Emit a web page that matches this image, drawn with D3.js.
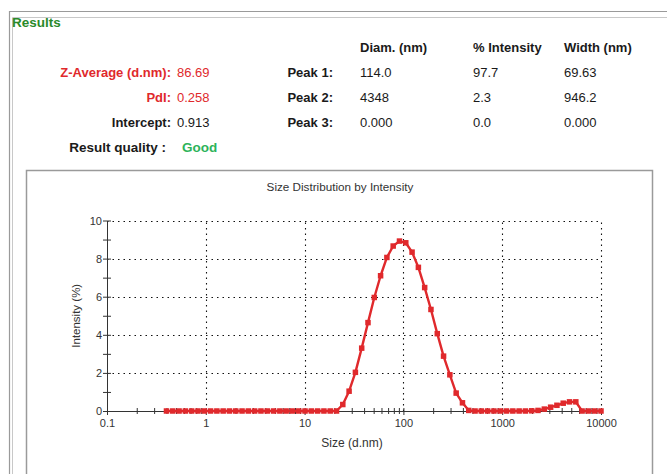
<!DOCTYPE html>
<html>
<head>
<meta charset="utf-8">
<script src="https://cdn.jsdelivr.net/npm/d3@7/dist/d3.min.js"></script>
<style>
  html, body { margin: 0; padding: 0; background: #fff; }
  svg { display: block; font-family: "Liberation Sans", Arial, sans-serif; }
</style>
</head>
<body>
<svg id="chart" width="667" height="474"></svg>
<script>
// ---- Data ----
const sizes = [0.4, 0.4632, 0.5365, 0.6213, 0.7195, 0.8332, 0.9649, 1.117, 1.294, 1.499,
  1.736, 2.01, 2.328, 2.696, 3.122, 3.615, 4.187, 4.849, 5.615, 6.503,
  7.531, 8.721, 10.1, 11.7, 13.54, 15.69, 18.17, 21.04, 24.36, 28.21,
  32.67, 37.84, 43.82, 50.75, 58.77, 68.06, 78.82, 91.28, 105.7, 122.4,
  141.8, 164.2, 190.1, 220.2, 255.0, 295.3, 342.0, 396.1, 458.7, 531.2,
  615.1, 712.4, 825.0, 955.4, 1106, 1281, 1484, 1718, 1990, 2305,
  2669, 3091, 3580, 4145, 4801, 5560, 6439, 7456, 8635, 10000];
const intensity = [0, 0, 0, 0, 0, 0, 0, 0, 0, 0,
  0, 0, 0, 0, 0, 0, 0, 0, 0, 0,
  0, 0, 0, 0, 0, 0, 0, 0, 0.34, 1.04,
  2.03, 3.3, 4.64, 5.96, 7.1, 8.06, 8.66, 8.92, 8.83, 8.34,
  7.54, 6.48, 5.33, 4.06, 2.88, 1.9, 0.94, 0.43, 0.03, 0,
  0, 0, 0, 0, 0, 0, 0, 0, 0.01, 0.03,
  0.1, 0.2, 0.3, 0.41, 0.48, 0.48, 0, 0, 0, 0];
const xTicks = [0.1, 1, 10, 100, 1000, 10000];
const xTickLabels = ["0.1", "1", "10", "100", "1000", "10000"];
const yTicks = [0, 2, 4, 6, 8, 10];
const yMinorTicks = [1, 3, 5, 7, 9];

const summaryLabels = ["Z-Average (d.nm):", "PdI:", "Intercept:"];
const summaryValues = ["86.69", "0.258", "0.913"];
const peakLabels = ["Peak 1:", "Peak 2:", "Peak 3:"];
const peakHeaders = ["Diam. (nm)", "% Intensity", "Width (nm)"];
const peakDiam = ["114.0", "4348", "0.000"];
const peakPct = ["97.7", "2.3", "0.0"];
const peakWidth = ["69.63", "946.2", "0.000"];

// ---- Drawing ----
const svg = d3.select("#chart");
const RED = "#e0292c", GREEN_T = "#2a8a2a", GREEN_G = "#2db35a", TXT = "#1a1a1a";
const FS = 13;

// frames
svg.append("path").attr("d", "M9.5,474V11.5H667").attr("fill", "none").attr("stroke", "#9a9a9a").attr("stroke-width", 1.2);
svg.append("path").attr("d", "M12.5,474V17.5H667").attr("fill", "none").attr("stroke", "#c8c8c8").attr("stroke-width", 1);
svg.append("path").attr("d", "M26.5,474V170.5H652.5V474").attr("fill", "none").attr("stroke", "#9a9a9a").attr("stroke-width", 1.5);

svg.append("text").attr("x", 12).attr("y", 27).attr("fill", GREEN_T)
  .attr("font-size", 13.5).attr("font-weight", "bold").text("Results");

// headers
const colX = [360, 473, 564];
peakHeaders.forEach((h, i) => {
  svg.append("text").attr("x", colX[i]).attr("y", 52).attr("font-size", FS)
    .attr("font-weight", "bold").attr("fill", TXT).text(h);
});
const rowY = [77, 102, 127];
summaryLabels.forEach((l, i) => {
  const c = i < 2 ? RED : TXT;
  svg.append("text").attr("x", 171).attr("y", rowY[i]).attr("text-anchor", "end")
    .attr("font-size", FS).attr("font-weight", "bold").attr("fill", c).text(l);
  svg.append("text").attr("x", 177).attr("y", rowY[i]).attr("font-size", FS)
    .attr("fill", c).text(summaryValues[i]);
});
peakLabels.forEach((l, i) => {
  svg.append("text").attr("x", 333).attr("y", rowY[i]).attr("text-anchor", "end")
    .attr("font-size", FS).attr("font-weight", "bold").attr("fill", TXT).text(l);
  [peakDiam, peakPct, peakWidth].forEach((arr, j) => {
    svg.append("text").attr("x", colX[j]).attr("y", rowY[i]).attr("font-size", FS)
      .attr("fill", TXT).text(arr[i]);
  });
});
svg.append("text").attr("x", 166).attr("y", 152).attr("text-anchor", "end")
  .attr("font-size", FS + 0.5).attr("font-weight", "bold").attr("fill", TXT).text("Result quality :");
svg.append("text").attr("x", 182).attr("y", 152).attr("font-size", FS + 0.5)
  .attr("font-weight", "bold").attr("fill", GREEN_G).text("Good");

// chart
svg.append("text").attr("x", 340).attr("y", 191).attr("text-anchor", "middle")
  .attr("font-size", 11.7).attr("fill", "#333").text("Size Distribution by Intensity");

const x = d3.scaleLog().domain([0.1, 10000]).range([107, 601]);
const y = d3.scaleLinear().domain([0, 10]).range([411, 220.5]);

// grid
const grid = svg.append("g").attr("stroke", "#111").attr("stroke-width", 1.1)
  .attr("stroke-dasharray", "1.5,4");
grid.selectAll("line.h").data(yTicks.slice(1)).join("line")
  .attr("x1", x(0.1)).attr("x2", x(10000))
  .attr("y1", d => Math.round(y(d)) + 0.5).attr("y2", d => Math.round(y(d)) + 0.5);
grid.selectAll("line.v").data(xTicks.slice(1)).join("line")
  .attr("y1", y(0)).attr("y2", y(10))
  .attr("x1", d => Math.round(x(d)) + 0.5).attr("x2", d => Math.round(x(d)) + 0.5);

// y axis
const yAxisL = d3.axisLeft(y).tickValues(yTicks).tickSize(4).tickSizeOuter(0).tickPadding(1).tickFormat(d3.format("d"));
const gyL = svg.append("g").attr("transform", `translate(${x(0.1)},0)`).call(yAxisL);
const gyR = svg.append("g").attr("transform", `translate(${x(0.1)},0)`)
  .call(d3.axisRight(y).tickValues(yTicks.concat(yMinorTicks)).tickSize(4).tickSizeOuter(0).tickFormat(""));
const gyM = svg.append("g").attr("transform", `translate(${x(0.1)},0)`)
  .call(d3.axisLeft(y).tickValues(yMinorTicks).tickSize(4).tickSizeOuter(0).tickFormat(""));

// x axis
const minorX = [];
[0.1, 1, 10, 100, 1000].forEach(b => { for (let k = 2; k <= 9; k++) minorX.push(b * k); });
const gxB = svg.append("g").attr("transform", `translate(0,${y(0)})`)
  .call(d3.axisBottom(x).tickValues(xTicks).tickSize(4).tickSizeOuter(0).tickPadding(4)
    .tickFormat((d, i) => xTickLabels[i]));
const gxT = svg.append("g").attr("transform", `translate(0,${y(0)})`)
  .call(d3.axisTop(x).tickValues(xTicks.concat(minorX)).tickSize(3).tickSizeOuter(0).tickFormat(""));
const gxM = svg.append("g").attr("transform", `translate(0,${y(0)})`)
  .call(d3.axisBottom(x).tickValues(minorX).tickSize(3).tickSizeOuter(0).tickFormat(""));

[gyL, gyR, gyM, gxB, gxT, gxM].forEach(g => {
  g.selectAll("path,line").attr("stroke", "#333");
  g.selectAll("text").attr("font-size", 11).attr("fill", "#333")
    .attr("font-family", '"Liberation Sans", Arial, sans-serif');
});

svg.append("text").attr("transform", `translate(80,${(y(0) + y(10)) / 2}) rotate(-90)`)
  .attr("text-anchor", "middle").attr("font-size", 11.5).attr("fill", "#333").text("Intensity (%)");
svg.append("text").attr("x", 352).attr("y", 447).attr("text-anchor", "middle")
  .attr("font-size", 12).attr("fill", "#333").text("Size (d.nm)");

// series
const pts = sizes.map((s, i) => ({ s, v: intensity[i] }));
svg.append("path").datum(pts)
  .attr("d", d3.line().x(d => x(d.s)).y(d => y(d.v)))
  .attr("fill", "none").attr("stroke", RED).attr("stroke-width", 2.4).attr("stroke-linejoin", "round");
svg.selectAll("rect.m").data(pts).join("rect")
  .attr("x", d => x(d.s) - 2.75).attr("y", d => y(d.v) - 2.75)
  .attr("width", 5.5).attr("height", 5.5).attr("fill", RED);
</script>
</body>
</html>
